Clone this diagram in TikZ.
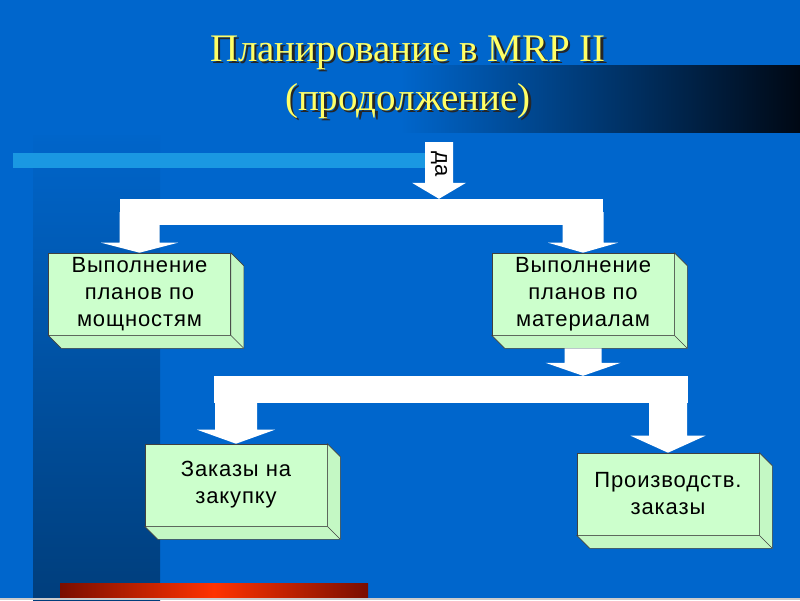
\documentclass[tikz,border=0pt]{standalone}
\usepackage{fontspec}
\setmainfont{Liberation Serif}
\newfontfamily\boxfont[LetterSpace=4]{Liberation Sans}
\usetikzlibrary{calc}
\definecolor{bg}{HTML}{0066CC}
\definecolor{bandtop}{HTML}{0065CA}
\definecolor{bandbot}{HTML}{003E7C}
\definecolor{titledark}{HTML}{000814}
\definecolor{stripe}{HTML}{1A98E2}
\definecolor{titleyellow}{HTML}{FFFF66}
\definecolor{boxgreen}{HTML}{CCFFCC}
\definecolor{boxside}{HTML}{C4F8C4}
\definecolor{reddark}{HTML}{7A0E00}
\definecolor{redbright}{HTML}{FF3300}
\newcommand\shadowtext[1]{\makebox[0pt][l]{\hspace{2.2pt}\raisebox{-2.2pt}{\color{black!85}#1}}#1}
\newcommand\sidefaces[1]{%
  \filldraw[side] (#1.north east) -- ($(#1.north east)+(13,13)$) -- ($(#1.south east)+(13,13)$) -- ($(#1.south west)+(13,13)$) -- (#1.south west) -- (#1.south east) -- cycle;
  \draw[side] (#1.south east) -- ($(#1.south east)+(13,13)$);}
% #1 start, #2 tip, #3 shaft half width, #4 head half width, #5 head length
\newcommand\blk[5]{%
  \fill[arr] let \p1=(#1), \p2=(#2) in
    (\x2-#3pt,\y1) -- (\x2+#3pt,\y1) -- (\x2+#3pt,\y2+#5pt) -- (\x2+#4pt,\y2+#5pt)
    -- (\x2,\y2) -- (\x2-#4pt,\y2+#5pt) -- (\x2-#3pt,\y2+#5pt) -- cycle;}
\begin{document}
\begin{tikzpicture}[x=1pt,y=-1pt,
  box/.style={draw=black!75, line width=0.6pt, fill=boxgreen, minimum width=182pt,
    minimum height=82pt, inner sep=0pt, align=center,
    font=\boxfont\fontsize{22}{27}\selectfont, text=black},
  side/.style={draw=black!75, line width=0.6pt, fill=boxside, line join=round},
  arr/.style={fill=white},
  bar/.style={fill=white, inner sep=0pt},
  ttl/.style={font=\fontsize{39}{49}\selectfont, anchor=base, inner sep=0pt, text=titleyellow}]
\useasboundingbox (0,0) rectangle (800,600);
% background
\fill[bg] (0,0) rectangle (800,600);
\shade[top color=bandtop, bottom color=bandbot] (33,135) rectangle (160,600);
\shade[left color=bg, right color=titledark] (400,65) rectangle (800,132);
\fill[stripe] (13,153) rectangle (430,168);
\shade[left color=reddark, right color=reddark, middle color=redbright] (60,583) rectangle (368,598);
\fill[black!20] (0,598) rectangle (800,600);
% title
\node[ttl] (t1) at (408,61) {\shadowtext{Планирование в MRP II}};
\node[ttl] (t2) at (408,110) {\shadowtext{(продолжение)}};
% boxes
\node[box] (b1) at (139.5,294) {Выполнение\\планов по\\мощностям};
\node[box] (b2) at (583,294) {Выполнение\\планов по\\материалам};
\node[box] (b3) at (236,485) {Заказы на\\закупку};
\node[box] (b4) at (668,494) {Производств.\\заказы};
\sidefaces{b1}\sidefaces{b2}\sidefaces{b3}\sidefaces{b4}
% upper connector
\coordinate (datop) at (439,142);
\node[bar, minimum width=483pt, minimum height=26pt] (bar1) at (361.5,212) {};
\blk{datop}{datop |- bar1.north}{14}{27}{16}
\node[rotate=-90, font=\boxfont\fontsize{22}{25}\selectfont, inner sep=0pt] (da) at (439,164) {да};
\blk{bar1.center}{b1.north}{20}{38.5}{10}
\blk{bar1.center}{b2.north}{20.5}{35}{10}
% lower connector
\node[bar, minimum width=474pt, minimum height=27pt] (bar2) at (451,389.5) {};
\blk{$(b2.south)+(0,13)$}{b2.south |- bar2.north}{18.5}{37.5}{13}
\blk{bar2.center}{b3.north}{21}{39}{14}
\blk{bar2.center}{b4.north}{19}{37.5}{17}
\end{tikzpicture}
\end{document}
